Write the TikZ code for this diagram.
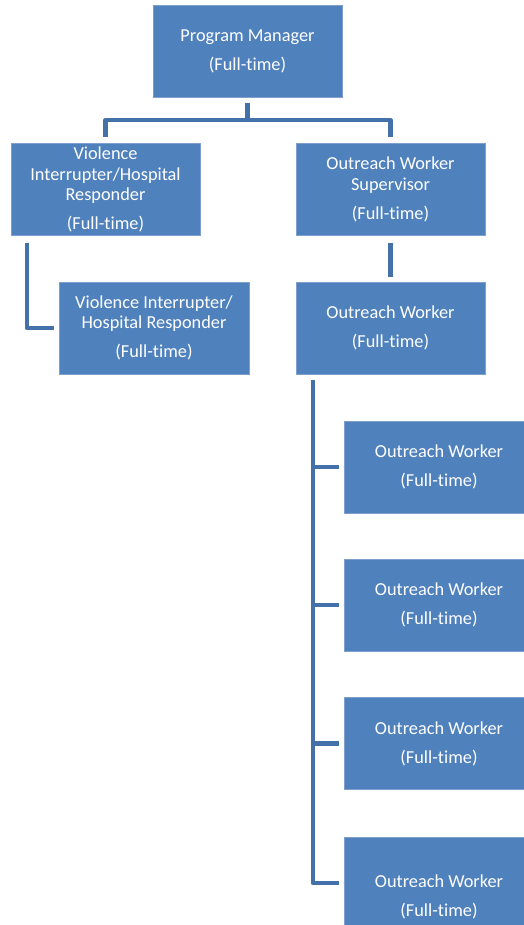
\documentclass[tikz,border=0pt]{standalone}
\usepackage{fontspec}
\setmainfont[Ligatures=NoCommon]{Carlito}
\definecolor{boxblue}{HTML}{4F81BD}
\definecolor{boxedge}{HTML}{7FA0CE}
\definecolor{linkblue}{HTML}{4571AB}
\begin{document}
\begin{tikzpicture}[x=1pt,y=-1pt,
  orgbox/.style={rectangle, fill=boxblue, draw=boxedge, line width=0.5pt,
    minimum width=189pt, minimum height=92pt, inner sep=0pt,
    text=white, align=center, font=\fontsize{18.3}{20.5}\selectfont},
  orgtext/.style={text=white, align=center, inner sep=0pt,
    font=\fontsize{18.3}{20.5}\selectfont},
  conn/.style={draw=linkblue, line width=4.5pt, line join=round}]
\useasboundingbox (0,0) rectangle (523,925);

% boxes
\node[orgbox] (pm)  at (247.5,51)  {Program Manager\\[8.5pt](Full-time)};
\node[orgbox] (vi)  at (105.5,189.5) {Violence\\Interrupter/Hospital\\Responder\\[8.5pt](Full-time)};
\node[orgbox] (ows) at (390.5,189.5) {Outreach Worker\\Supervisor\\[8.5pt](Full-time)};
\node[orgbox, minimum width=190pt] (vi2) at (154,328) {Violence Interrupter/\\Hospital Responder\\[8.5pt](Full-time)};
\node[orgbox] (ow)  at (390.5,328) {Outreach Worker\\[8.5pt](Full-time)};
\node[orgbox, minimum width=190pt] (ow1) at (439,467)   {Outreach Worker\\[8.5pt](Full-time)};
\node[orgbox, minimum width=190pt] (ow2) at (439,605)   {Outreach Worker\\[8.5pt](Full-time)};
\node[orgbox, minimum width=190pt] (ow3) at (439,743.5) {Outreach Worker\\[8.5pt](Full-time)};
\node[orgbox, minimum width=190pt] (ow4) at (439,883) {};
\node[orgtext] (ow4t) at (439,897) {Outreach Worker\\[8.5pt](Full-time)};

% connectors
\coordinate (bus) at (247.5,120);
\draw[conn, shorten <=6pt] (pm.south) -- (bus);
\draw[conn, shorten <=6pt, shorten >=6pt] (vi.north) |- (bus) -| (ows.north);
\draw[conn, shorten <=7pt, shorten >=5pt] ([xshift=16pt]vi.south west) |- (vi2.west);
\draw[conn, shorten <=7pt, shorten >=5pt] (ows.south) -- (ow.north);
\coordinate (trunk) at ([xshift=17pt]ow.south west);
\draw[conn, shorten <=6pt, shorten >=5pt] (trunk) |- (ow4.west);
\draw[conn, shorten >=5pt] (ow1.west -| trunk) -- (ow1.west);
\draw[conn, shorten >=5pt] (ow2.west -| trunk) -- (ow2.west);
\draw[conn, shorten >=5pt] (ow3.west -| trunk) -- (ow3.west);
\end{tikzpicture}
\end{document}
